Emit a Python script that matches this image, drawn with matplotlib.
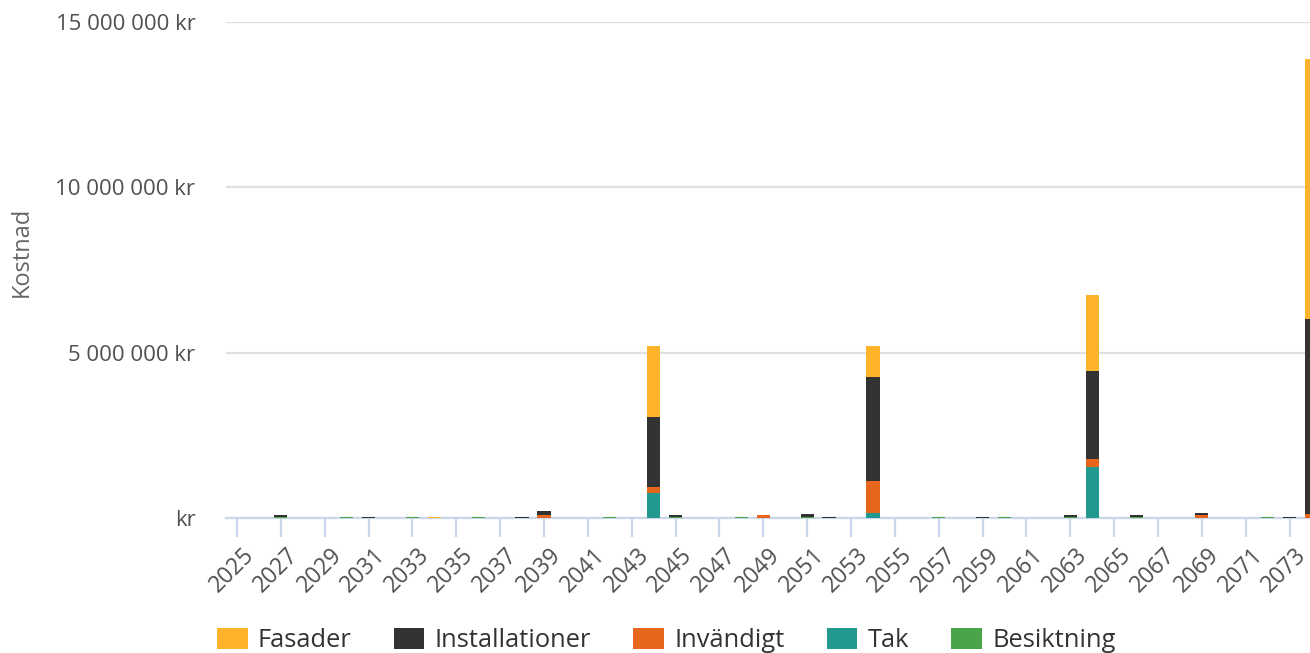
import numpy as np
import matplotlib
matplotlib.use("Agg")
import matplotlib.pyplot as plt
import matplotlib.transforms as mtransforms
from matplotlib.patches import Patch

plt.rcParams['font.family'] = ['Open Sans', 'DejaVu Sans']

# -----------------------------
# Data (kr per year)
# -----------------------------
years = list(range(2025, 2075))

fasader = {2034: 20000, 2044: 2140000, 2054: 920000, 2064: 2300000, 2074: 7860000}
installationer = {2027: 80000, 2031: 30000, 2038: 30000, 2039: 120000, 2044: 2110000,
                  2045: 80000, 2051: 90000, 2052: 30000, 2054: 3160000, 2059: 30000,
                  2063: 80000, 2064: 2680000, 2066: 80000, 2069: 70000, 2073: 30000,
                  2074: 5880000}
invandigt = {2039: 100000, 2044: 180000, 2049: 80000, 2054: 970000, 2064: 240000,
             2069: 80000, 2074: 130000}
tak = {2044: 760000, 2054: 140000, 2064: 1530000}
besiktning = {2027: 20000, 2030: 20000, 2033: 20000, 2036: 20000, 2042: 20000,
              2045: 20000, 2048: 20000, 2051: 20000, 2057: 20000, 2060: 20000,
              2063: 20000, 2066: 20000, 2072: 20000}

series_names = ["Fasader", "Installationer", "Invändigt", "Tak", "Besiktning"]
series_colors = ["#FDB42B", "#333333", "#E6661C", "#21998F", "#4AA54A"]
# stacking order bottom -> top
stack = [("Besiktning", besiktning), ("Tak", tak), ("Invändigt", invandigt),
         ("Installationer", installationer), ("Fasader", fasader)]

ytick_vals = [0, 5000000, 10000000, 15000000]
ytick_labels = ["kr", "5 000 000 kr", "10 000 000 kr", "15 000 000 kr"]
xtick_years = years[::2]

# -----------------------------
# Plot
# -----------------------------
W, H = 1310, 653
fig = plt.figure(figsize=(W / 100, H / 100), dpi=100)
ax = fig.add_axes([226 / W, 135 / H, (1322.5 - 226) / W, (518 - 22) / H])

color_of = dict(zip(series_names, series_colors))
x = np.array(years)
bottom = np.zeros(len(years))
for name, d in stack:
    vals = np.array([d.get(y, 0) for y in years], dtype=float)
    ax.bar(x, vals, width=0.6, bottom=bottom, color=color_of[name],
           linewidth=0, zorder=3)
    bottom += vals

ax.set_xlim(2024.5, 2074.5)
ax.set_ylim(0, 15000000)

ax.set_yticks(ytick_vals)
ax.set_yticklabels(ytick_labels)
ax.tick_params(axis='y', length=0, pad=22, labelsize=16, labelcolor='#505050')
ax.yaxis.grid(True, color='#e0e0e0', linewidth=1.6, zorder=0)

ax.set_xticks(xtick_years)
ax.set_xticklabels([str(y) for y in xtick_years], rotation=45, ha='right',
                   rotation_mode='anchor')
ax.tick_params(axis='x', length=14, width=1.6, color='#ccd6eb', pad=4,
               labelsize=16.5, labelcolor='#505050')
# nudge rotated labels a little to the right, like the original
shift = mtransforms.ScaledTranslation(5 / 100, 0, fig.dpi_scale_trans)
for lbl in ax.get_xticklabels():
    lbl.set_transform(lbl.get_transform() + shift)

for s in ['top', 'right', 'left']:
    ax.spines[s].set_visible(False)
ax.spines['bottom'].set_color('#ccd6eb')
ax.spines['bottom'].set_linewidth(1.6)

fig.text(22 / W, 1 - 252 / H, "Kostnad", rotation=90, ha='center', va='center',
         fontsize=17, color='#666666')

handles = [Patch(facecolor=c, edgecolor='none') for c in series_colors]
fig.legend(handles, series_names, loc='lower left',
           bbox_to_anchor=(217 / W, 0.0), ncol=5, frameon=False,
           fontsize=18.4, handlelength=1.2, handleheight=0.9, handletextpad=0.4,
           columnspacing=1.65, labelcolor='#333333', borderpad=0,
           borderaxespad=0)

fig.savefig("out.png", dpi=100)
